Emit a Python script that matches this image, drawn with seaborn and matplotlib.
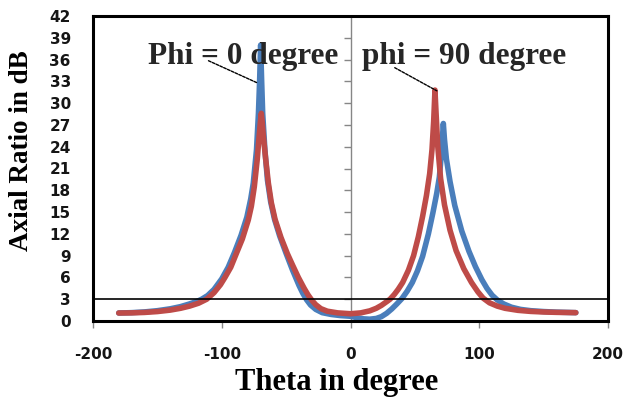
import numpy as np
import pandas as pd
import matplotlib
matplotlib.use("Agg")
import matplotlib.pyplot as plt
import seaborn as sns

# Axial ratio (dB) vs theta (deg)
theta_phi0 = [-180, -170, -160, -150, -140, -132, -125, -119, -115.6, -111, -106, -100, -95,
              -90.2, -85, -80.5, -77.5, -75.5, -73, -71.5, -70.6, -69.8, -69, -68.2, -66.5,
              -64.5, -62, -59, -55, -50, -45, -40, -37, -34, -31, -27, -22, -15, -8, 0,
              5, 10, 15, 20, 24, 28, 32, 36, 40, 44, 48, 52, 56, 60.5, 64, 67, 69, 70.5,
              71.5, 72.1, 73, 74.5, 77.3, 81, 86.4, 92, 97, 102, 106, 110, 114, 119, 125,
              132, 140, 150, 160, 175]
ar_phi0 = [1.1, 1.15, 1.25, 1.42, 1.68, 1.98, 2.35, 2.72, 3.0, 3.5, 4.35, 5.8, 7.4,
           9.4, 11.8, 14.3, 16.8, 19.0, 23.6, 28.6, 33.0, 38.0, 33.0, 28.6, 23.6,
           19.4, 16.4, 14.0, 11.7, 9.3, 7.0, 4.9, 3.8, 2.9, 2.2, 1.6, 1.15, 0.9, 0.75, 0.65,
           0.45, 0.3, 0.25, 0.35, 0.6, 1.05, 1.65, 2.35, 3.1, 4.1, 5.3, 6.9, 8.9, 12.0, 14.9, 17.6, 19.8, 22.8,
           25.5, 27.2, 25.0, 22.3, 19.2, 15.9, 12.4, 9.6, 7.5, 5.7, 4.5, 3.55, 2.9, 2.35, 1.9,
           1.6, 1.42, 1.3, 1.22, 1.15]

theta_phi90 = [-180, -170, -160, -150, -140, -132, -125, -118, -111.7, -106, -101, -97.5, -93,
               -88.4, -84, -79.4, -77, -74.7, -72.4, -71, -70, -69.3, -68.6, -67.7, -66,
               -63.8, -61.5, -58.6, -54, -49.1, -45, -40.5, -36, -33, -30, -27, -23, -18,
               -10, 0, 8, 15, 20, 24, 28, 30.7, 34, 37, 40.5, 45, 49, 52.7, 56, 59, 61.5,
               63.3, 64.6, 65.6, 66.5, 67.8, 70, 73, 77.3, 82, 88, 94, 99, 103, 108, 114,
               120, 130, 140, 150, 160, 175]
ar_phi90 = [1.1, 1.12, 1.18, 1.3, 1.5, 1.75, 2.05, 2.45, 3.0, 3.9, 5.0, 6.0, 7.4,
            9.4, 11.3, 13.9, 15.8, 18.5, 22.3, 25.4, 27.4, 28.6, 27.4, 25.5, 22.5,
            19.0, 16.3, 14.0, 11.5, 9.3, 7.7, 6.0, 4.5, 3.6, 2.85, 2.25, 1.7, 1.35,
            1.12, 1.0, 1.12, 1.4, 1.75, 2.15, 2.65, 3.0, 3.65, 4.35, 5.3, 7.0, 9.0, 11.6, 14.4, 17.3, 20.3,
            23.6, 27.5, 31.8, 28.5, 24.0, 19.6, 16.0, 12.5, 9.7, 7.2, 5.3, 4.0, 3.15, 2.5, 2.05,
            1.75, 1.47, 1.32, 1.24, 1.19, 1.15]

x_ticks = [-200, -100, 0, 100, 200]
y_ticks = [0, 3, 6, 9, 12, 15, 18, 21, 24, 27, 30, 33, 36, 39, 42]
threshold_db = 3

df = pd.concat([
    pd.DataFrame({"Theta": theta_phi0, "AR": ar_phi0, "Phi": "phi0"}),
    pd.DataFrame({"Theta": theta_phi90, "AR": ar_phi90, "Phi": "phi90"}),
], ignore_index=True)

sns.set_theme(style="ticks")
plt.rcParams["font.family"] = ["DejaVu Sans"]

fig, ax = plt.subplots(figsize=(6.27, 4.01), dpi=100)
fig.subplots_adjust(left=93 / 627, right=608 / 627, bottom=80 / 401, top=385 / 401)

sns.lineplot(data=df, x="Theta", y="AR", hue="Phi",
             palette=["#4A7EBB", "#BE4B48"], lw=4, legend=False,
             solid_capstyle="round", solid_joinstyle="round", ax=ax)

# 3 dB reference line
ax.axhline(threshold_db, color="black", lw=1.2, zorder=4)

ax.set_xlim(-200, 200)
ax.set_ylim(0, 42)
ax.set_xticks(x_ticks)
ax.set_yticks(y_ticks)

tick_font = dict(fontsize=11, fontweight="bold", color="#151515")
ax.set_xticklabels([str(t) for t in x_ticks], **tick_font)
ax.set_yticklabels([str(t) for t in y_ticks], **tick_font)
ax.tick_params(axis="x", direction="out", length=5, width=1, color="#868686", pad=14)
ax.tick_params(axis="y", length=0, pad=16)

for sp in ax.spines.values():
    sp.set_visible(True)
    sp.set_color("black")
    sp.set_linewidth(2.2)

# vertical axis through theta = 0 with its tick marks
mid = ax.secondary_yaxis(0.5)
mid.set_alignment("left")
mid.set_yticks(y_ticks)
mid.tick_params(axis="y", direction="out", length=5, width=1, color="#868686",
                labelleft=False, labelright=False)
for sp in mid.spines.values():
    sp.set_color("#868686")
    sp.set_linewidth(1)

serif = ["Liberation Serif", "DejaVu Serif"]
ax.set_xlabel("Theta in degree", fontsize=22, fontweight="bold", family=serif, color="black")
ax.set_ylabel("Axial Ratio in dB", fontsize=19.5, fontweight="bold", family=serif, color="black")
ax.xaxis.set_label_coords(0.473, -0.155)
ax.yaxis.set_label_coords(-0.115, 0.557)

ax.annotate("Phi = 0 degree", xy=(-72.5, 32.8), xytext=(-157, 36.4),
            ha="left", va="center", fontsize=22.5, fontweight="bold", family=serif,
            arrowprops=dict(arrowstyle="-", lw=1, color="black", ls=(0, (2, 1)),
                            patchA=None, shrinkA=0, shrinkB=0, relpos=(0.316, 0.36)),
            zorder=6)
ax.annotate("phi = 90 degree", xy=(67, 31.7), xytext=(9, 36.4),
            ha="left", va="center", fontsize=22.5, fontweight="bold", family=serif,
            arrowprops=dict(arrowstyle="-", lw=1, color="black", ls=(0, (2, 1)),
                            patchA=None, shrinkA=0, shrinkB=0, relpos=(0.16, 0.12)),
            zorder=6)

fig.savefig("out.png", dpi=100)
